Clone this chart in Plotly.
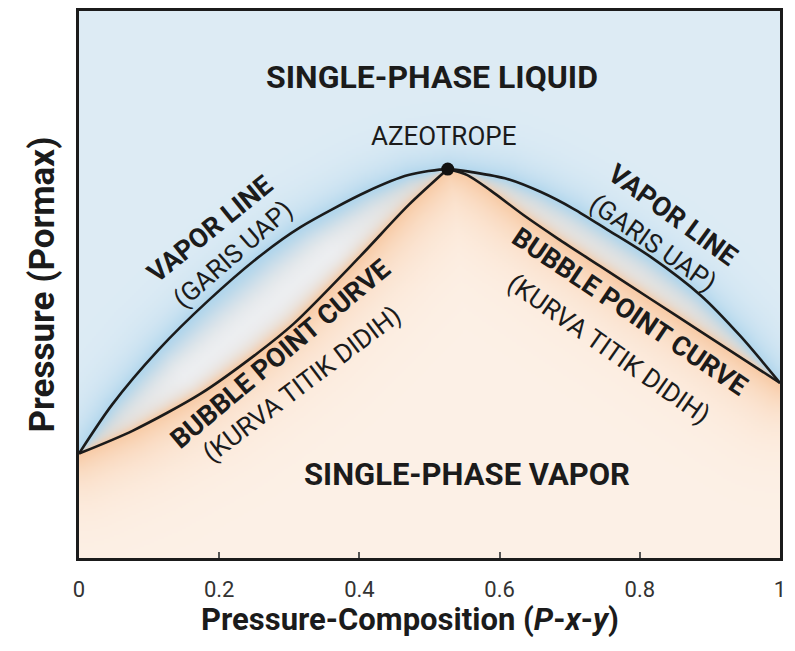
import base64, struct, zlib
import numpy as np
import plotly.graph_objects as go

# ---------------- data ----------------
vapor_x = [0.0, 0.047, 0.113, 0.184, 0.261, 0.316, 0.411, 0.47, 0.526,
           0.563, 0.611, 0.659, 0.706, 0.754, 0.816, 0.887, 0.944, 1.0]
vapor_y = [0.191, 0.28, 0.38, 0.47, 0.555, 0.605, 0.67, 0.70, 0.711,
           0.705, 0.693, 0.669, 0.638, 0.60, 0.55, 0.48, 0.405, 0.32]

bubble_x = [0.0, 0.077, 0.173, 0.25, 0.306, 0.4, 0.47, 0.526,
            0.554, 0.587, 0.634, 0.683, 0.744, 0.816, 0.887, 0.959, 1.0]
bubble_y = [0.191, 0.233, 0.30, 0.37, 0.428, 0.55, 0.645, 0.711,
            0.700, 0.672, 0.627, 0.584, 0.533, 0.473, 0.414, 0.354, 0.32]

azeo_x = [0.526]
azeo_y = [0.711]

tick_vals = [0, 0.2, 0.4, 0.6, 0.8, 1]
tick_text = ["0", "0.2", "0.4", "0.6", "0.8", "1"]

# ---------------- layout constants ----------------
W, H = 795, 651
ML, MR, MT, MB = 79, 15, 8, 93
PW, PH = W - ML - MR, H - MT - MB
FONT = "Roboto, sans-serif"
INK = "#1b1b1b"

# ---------------- soft background glow (decoration) ----------------
def seg_dist(px, py, xs, ys):
    ax = np.asarray(xs[:-1]) * PW; ay = np.asarray(ys[:-1]) * PH
    bx = np.asarray(xs[1:]) * PW; by = np.asarray(ys[1:]) * PH
    P = np.stack([px.ravel(), py.ravel()], 1)[:, None, :]
    A = np.stack([ax, ay], 1)[None]; B = np.stack([bx, by], 1)[None]
    AB = B - A; AP = P - A
    t = np.clip((AP * AB).sum(-1) / (AB * AB).sum(-1), 0, 1)
    C = A + t[..., None] * AB
    d = np.sqrt(((P - C) ** 2).sum(-1)).min(1)
    return d.reshape(px.shape)

IW, IH = 351, 275
gx = (np.arange(IW) + 0.5) / IW
gy = 1 - (np.arange(IH) + 0.5) / IH
X, Y = np.meshgrid(gx, gy)
PX, PY = X * PW, Y * PH
dv = seg_dist(PX, PY, vapor_x, vapor_y)
db = seg_dist(PX, PY, bubble_x, bubble_y)
vy = np.interp(X, vapor_x, vapor_y)
byy = np.interp(X, bubble_x, bubble_y)

far_blue = np.array([222, 236, 245.])
str_blue = np.array([176, 214, 237.])
far_peach = np.array([253, 241, 231.])
str_orng = np.array([248, 202, 164.])
mid_white = np.array([238, 240, 243.])

img = np.zeros((IH, IW, 3))
liq = Y >= vy
vap = Y <= byy
two = ~liq & ~vap
wb = np.exp(-dv / 18.0)[..., None]
wo = np.exp(-db / 30.0)[..., None]
img = np.where(liq[..., None], far_blue + (str_blue - far_blue) * wb, img)
img = np.where(vap[..., None], far_peach + (str_orng - far_peach) * wo, img)
t = (dv / (dv + db + 1e-9))[..., None] ** 1.4
gap = np.clip((dv + db) / 60.0, 0, 1)[..., None]
mix = str_blue * (1 - t) + str_orng * t
mix = mix + (mid_white - mix) * (4 * t * (1 - t)) * gap * 0.95
img = np.where(two[..., None], mix, img)
img = np.clip(img, 0, 255).astype(np.uint8)

def png_uri(a):
    h, w, _ = a.shape
    raw = b"".join(b"\x00" + a[i].tobytes() for i in range(h))
    def chunk(tag, data):
        c = tag + data
        return struct.pack(">I", len(data)) + c + struct.pack(">I", zlib.crc32(c) & 0xFFFFFFFF)
    png = b"\x89PNG\r\n\x1a\n" + chunk(b"IHDR", struct.pack(">IIBBBBB", w, h, 8, 2, 0, 0, 0)) \
        + chunk(b"IDAT", zlib.compress(raw, 9)) + chunk(b"IEND", b"")
    return "data:image/png;base64," + base64.b64encode(png).decode()

# ---------------- figure ----------------
fig = go.Figure()
kb = bubble_x.index(0.526)
line = dict(color=INK, width=2.6, shape="spline", smoothing=0.8)
fig.add_trace(go.Scatter(x=vapor_x, y=vapor_y, mode="lines", line=line, hoverinfo="skip"))
fig.add_trace(go.Scatter(x=bubble_x[:kb + 1], y=bubble_y[:kb + 1], mode="lines", line=line, hoverinfo="skip"))
fig.add_trace(go.Scatter(x=bubble_x[kb:], y=bubble_y[kb:], mode="lines", line=line, hoverinfo="skip"))
fig.add_trace(go.Scatter(x=azeo_x, y=azeo_y, mode="markers",
                         marker=dict(color="#111", size=13), hoverinfo="skip"))

labels = [
    ("<b>SINGLE-PHASE LIQUID</b>", 0.504, 0.88, 0, 32),
    ("AZEOTROPE", 0.52, 0.772, 0, 26),
    ("<b>SINGLE-PHASE VAPOR</b>", 0.553, 0.153, 0, 31),
    ("<b>VAPOR LINE</b>", 0.187, 0.602, -39, 27),
    ("(GARIS UAP)", 0.220, 0.556, -41, 26),
    ("<b>BUBBLE POINT CURVE</b>", 0.287, 0.373, -40, 27),
    ("(KURVA TITIK DIDIH)", 0.318, 0.318, -37, 26),
    ("<b>VAPOR LINE</b>", 0.847, 0.627, 36, 27),
    ("(GARIS UAP)", 0.819, 0.575, 35, 26),
    ("<b>BUBBLE POINT CURVE</b>", 0.786, 0.449, 34, 27),
    ("(KURVA TITIK DIDIH)", 0.756, 0.382, 35, 26),
]
for txt, x, y, ang, sz in labels:
    fig.add_annotation(x=x, y=y, xref="x", yref="y", text=txt, showarrow=False,
                       textangle=ang, font=dict(family=FONT, size=sz, color=INK))

# x-axis title (sits slightly left of the plot centre in the original)
fig.add_annotation(x=0.472, y=-0.113, xref="paper", yref="paper", showarrow=False,
                   text="<b>Pressure-Composition (<i>P</i>-<i>x</i>-<i>y</i>)</b>",
                   font=dict(family=FONT, size=31, color=INK), yanchor="middle")

fig.add_layout_image(dict(source=png_uri(img), xref="x", yref="y", x=0, y=1,
                          sizex=1, sizey=1, sizing="stretch", layer="below"))

fig.update_layout(
    width=W, height=H, margin=dict(l=ML, r=MR, t=MT, b=MB),
    paper_bgcolor="white", plot_bgcolor="white", showlegend=False,
    font=dict(family=FONT, color=INK),
)
fig.update_xaxes(range=[0, 1], tickvals=tick_vals, ticktext=tick_text,
                 ticks="inside", ticklen=6, tickwidth=2, tickcolor="#555",
                 tickfont=dict(family=FONT, size=22, color="#333"),
                 ticklabelstandoff=10,
                 showline=True, linecolor="#1b1b1b", linewidth=2.5, mirror=True,
                 showgrid=False, zeroline=False)
fig.update_yaxes(range=[0, 1], showticklabels=False, ticks="",
                 showline=True, linecolor="#1b1b1b", linewidth=2.5, mirror=True,
                 showgrid=False, zeroline=False,
                 title=dict(text="<b>Pressure (Pormax)</b>",
                            font=dict(family=FONT, size=35, color=INK), standoff=12))

fig.write_html("out.html", config={"displayModeBar": False},
               post_script="document.body.style.margin='0';")
